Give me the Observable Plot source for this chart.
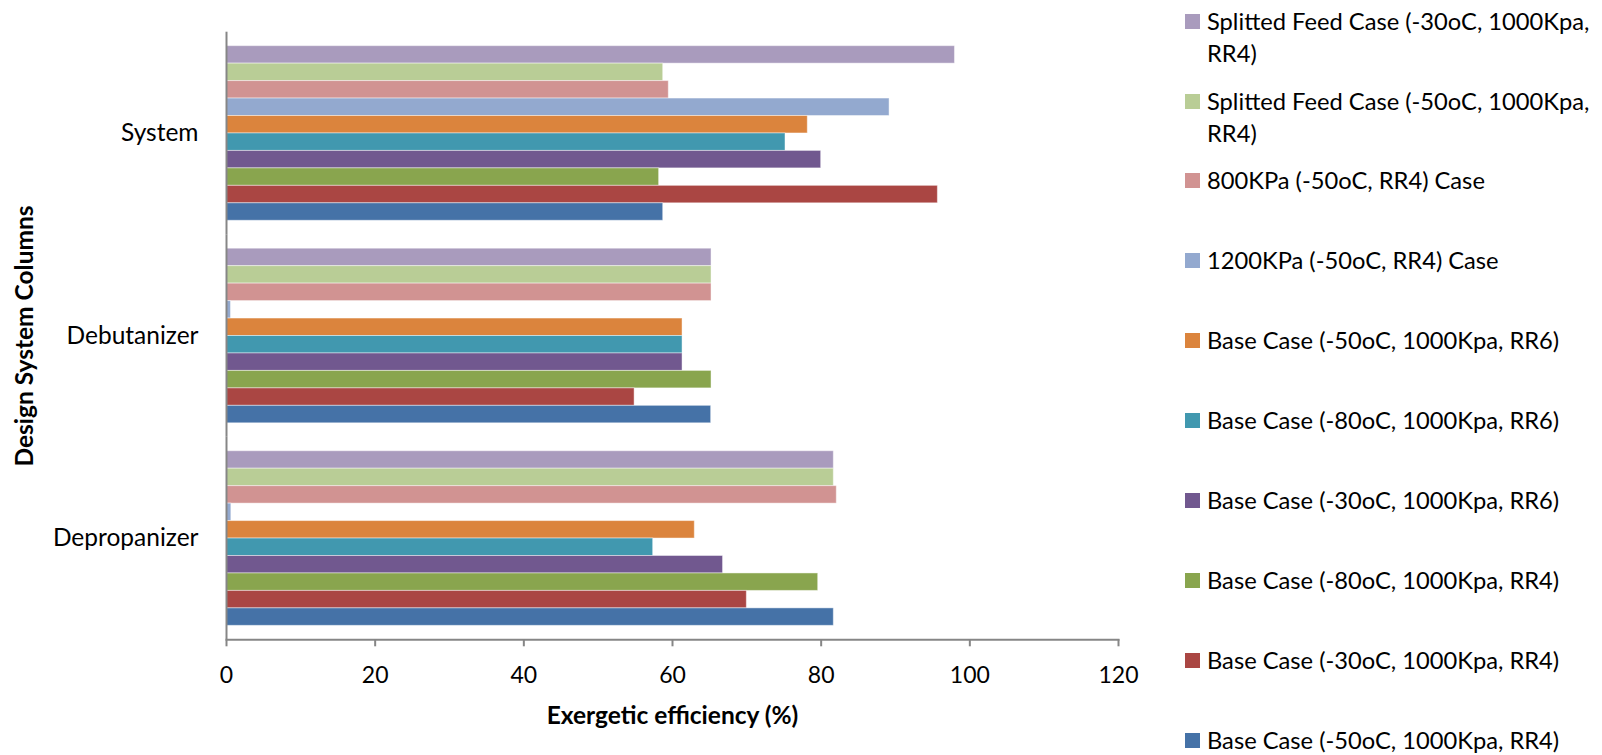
<!DOCTYPE html>
<html>
<head>
<meta charset="utf-8">
<script src="https://cdn.jsdelivr.net/npm/d3@7"></script>
<script src="https://cdn.jsdelivr.net/npm/@observablehq/plot@0.6"></script>
<style>
  html, body { margin: 0; padding: 0; background: #fff; }
  #page { position: relative; width: 1602px; height: 755px; overflow: hidden; font-family: Lato, "Open Sans", sans-serif; }
  #chart { position: absolute; left: 0; top: 0; }
  #legend { position: absolute; left: 1185px; top: 4.7px; }
  .item { display: flex; align-items: flex-start; height: 79.9px; }
  .swatch { width: 15px; height: 15px; margin-top: 9px; margin-right: 7px; flex: none; }
  .label { width: 392px; font-size: 23.7px; line-height: 32px; color: #000; }
</style>
</head>
<body>
<div id="page">
  <div id="chart"></div>
  <div id="legend"></div>
</div>
<script>
// Column groups, top to bottom
const categories = ["System", "Debutanizer", "Depropanizer"];

// Design cases, in the order they are stacked inside each group (top to bottom)
const series = [
  "Splitted Feed Case (-30oC, 1000Kpa, RR4)",
  "Splitted Feed Case (-50oC, 1000Kpa, RR4)",
  "800KPa (-50oC, RR4) Case",
  "1200KPa (-50oC, RR4) Case",
  "Base Case (-50oC, 1000Kpa, RR6)",
  "Base Case (-80oC, 1000Kpa, RR6)",
  "Base Case (-30oC, 1000Kpa, RR6)",
  "Base Case (-80oC, 1000Kpa, RR4)",
  "Base Case (-30oC, 1000Kpa, RR4)",
  "Base Case (-50oC, 1000Kpa, RR4)"
];

const seriesColors = [
  "#A99BBD", "#B9CD96", "#D19392", "#93A9CF", "#DB843D",
  "#4198AF", "#71588F", "#89A54E", "#AA4643", "#4572A7"
];

// Exergetic efficiency (%) per case, same order as `series`
const systemValues       = [98.0, 58.75, 59.5, 89.2, 78.2, 75.2, 80.0, 58.2, 95.7, 58.75];
const debutanizerValues  = [65.25, 65.25, 65.25, 0.6, 61.35, 61.35, 61.35, 65.25, 54.9, 65.2];
const depropanizerValues = [81.7, 81.7, 82.1, 0.65, 63.0, 57.4, 66.8, 79.6, 70.0, 81.7];

const xTicks = [0, 20, 40, 60, 80, 100, 120];
const xTitle = "Exergetic efficiency (%)";
const yTitle = "Design System Columns";

const valuesByCategory = {
  System: systemValues,
  Debutanizer: debutanizerValues,
  Depropanizer: depropanizerValues
};

const rows = categories.flatMap((category) =>
  series.map((name, i) => ({category, series: name, value: valuesByCategory[category][i]}))
);

const axisGray = "#868686";

const chart = Plot.plot({
  width: 1170,
  height: 755,
  marginLeft: 226,
  marginRight: 52,
  marginTop: 31.7,
  marginBottom: 115.7,
  style: {fontFamily: "Lato, 'Open Sans', sans-serif", fontSize: "23px", color: "#000", background: "#fff"},
  x: {domain: [0, 120]},
  y: {domain: series, axis: null, paddingInner: 0, paddingOuter: 0.8, round: false},
  fy: {domain: categories, padding: 0, round: false},
  color: {domain: series, range: seriesColors},
  marks: [
    Plot.barX(rows, {
      x: "value", y: "series", fy: "category", fill: "series",
      stroke: "#fff", strokeOpacity: 0.45, strokeWidth: 1
    }),
    Plot.ruleX([0], {stroke: axisGray, strokeWidth: 2}),
    Plot.frame({anchor: "bottom", facetAnchor: "bottom", stroke: axisGray, strokeWidth: 2}),
    Plot.axisX({ticks: xTicks, tickSize: 7, tickPadding: 20, stroke: axisGray, strokeWidth: 2, fill: "#000", label: null}),
    Plot.axisFy({anchor: "left", tickSize: 0, tickPadding: 28, fill: "#000", fontSize: 24.5, label: null}),
    Plot.text([xTitle], {
      fy: () => "Depropanizer", frameAnchor: "bottom", dy: 76, text: (d) => d,
      textAnchor: "middle", fontWeight: "bold", fontSize: 24.5, fill: "#000", lineAnchor: "middle"
    }),
    Plot.text([yTitle], {
      fy: () => "Debutanizer", frameAnchor: "left", dx: -201, rotate: -90, text: (d) => d,
      textAnchor: "middle", fontWeight: "bold", fontSize: 24.5, fill: "#000", lineAnchor: "middle"
    })
  ]
});
document.getElementById("chart").append(chart);

// Legend on the right, one entry per case
const legend = document.getElementById("legend");
series.forEach((name, i) => {
  const item = document.createElement("div");
  item.className = "item";
  const swatch = document.createElement("div");
  swatch.className = "swatch";
  swatch.style.background = seriesColors[i];
  const label = document.createElement("div");
  label.className = "label";
  label.textContent = name;
  item.append(swatch, label);
  legend.append(item);
});
</script>
</body>
</html>
